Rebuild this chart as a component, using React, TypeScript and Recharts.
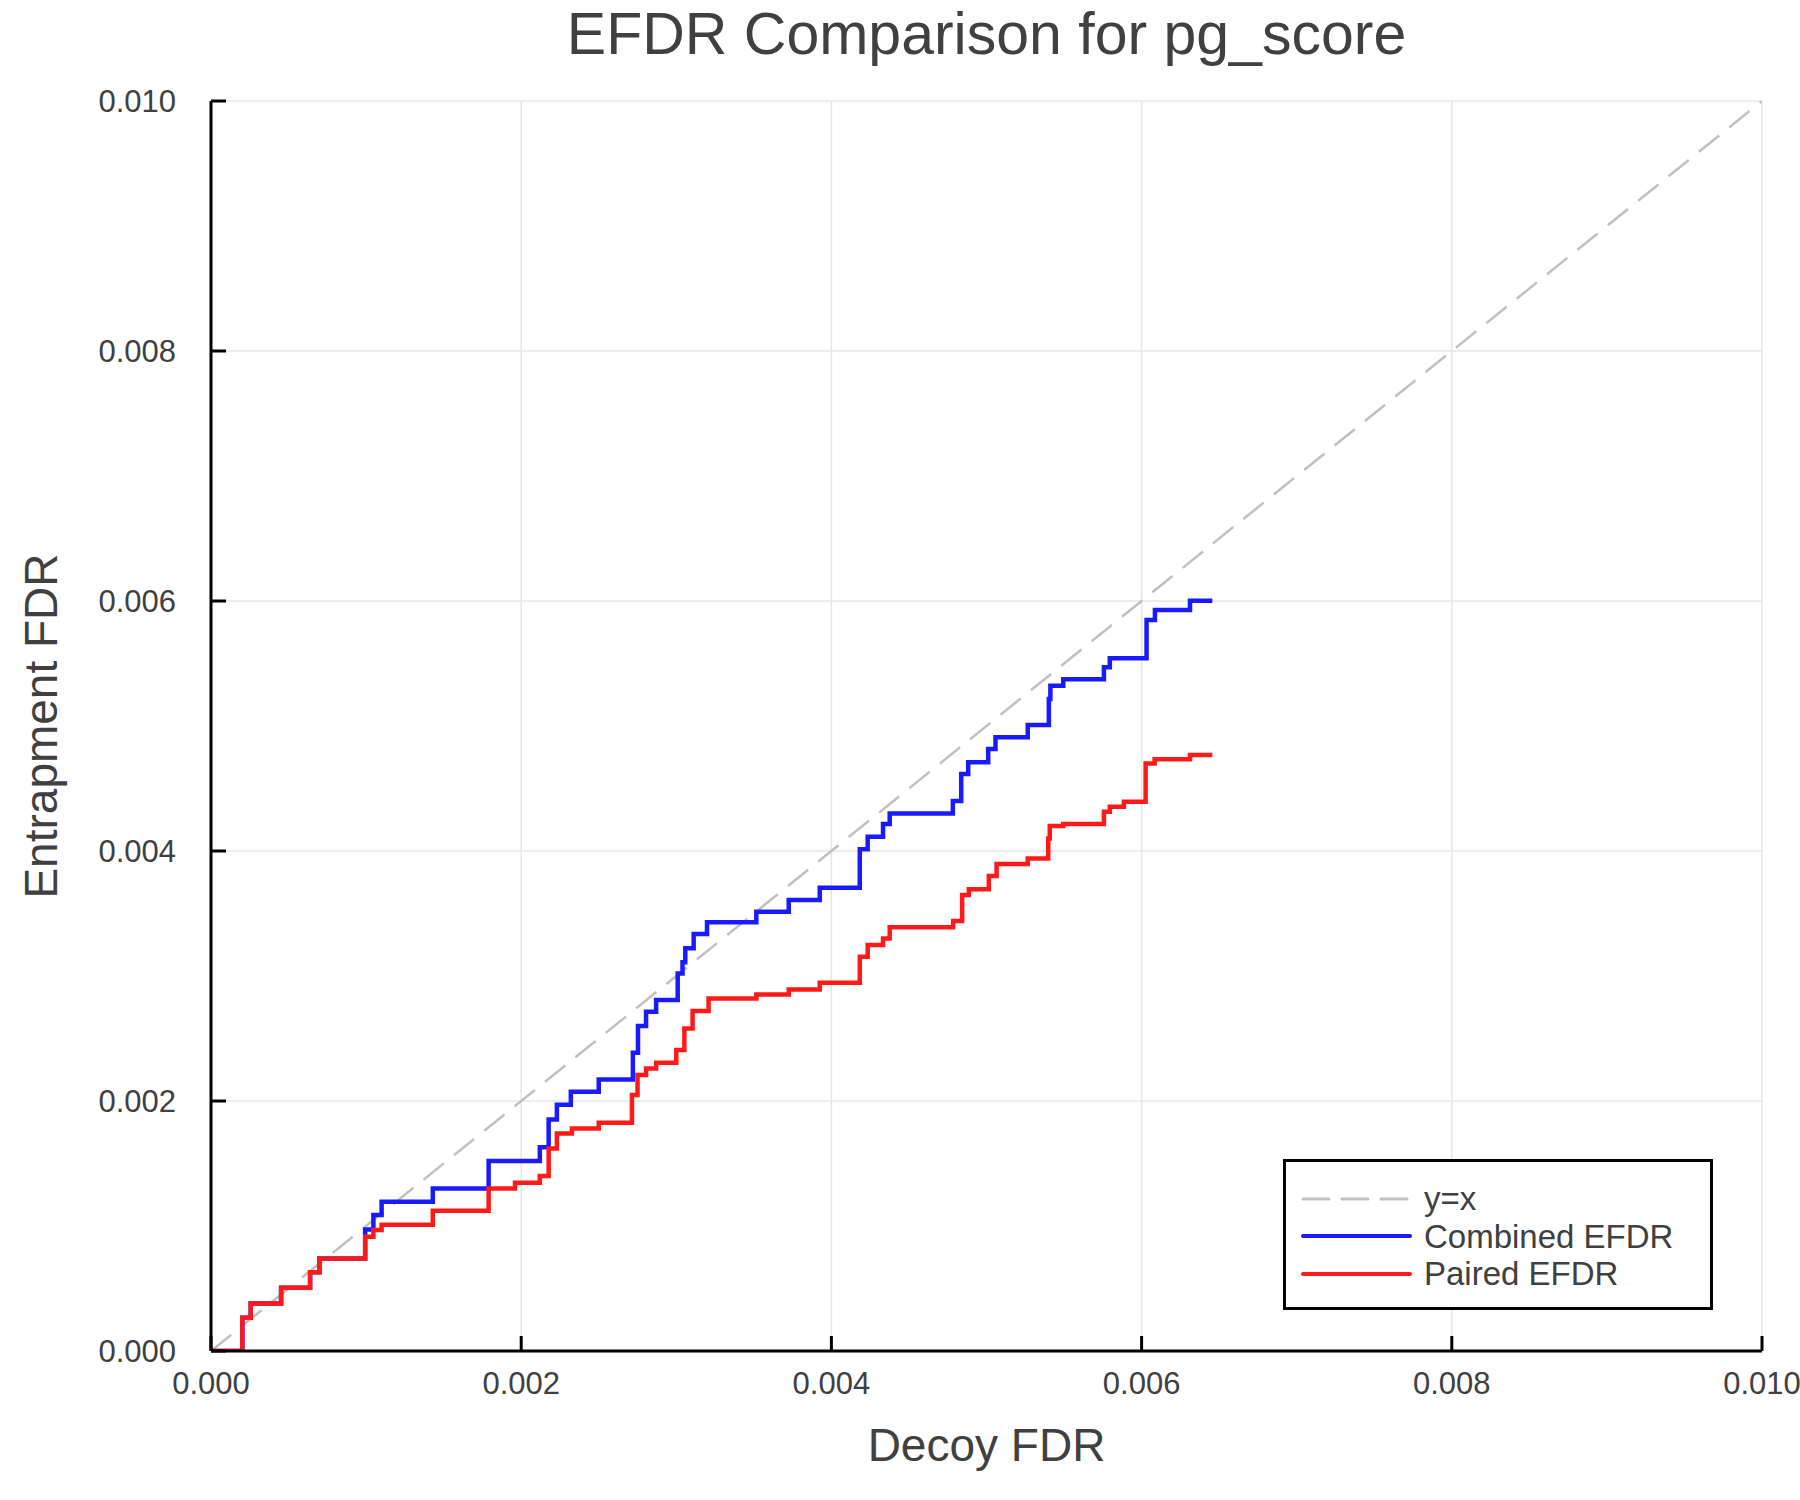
import React from "react";
import { LineChart, Line, XAxis, YAxis, CartesianGrid, Legend } from "recharts";

// values (step curves, drawn as stepAfter)
const COMBINED_X = [
  0, 0.000202, 0.000256, 0.000452, 0.000639, 0.000699, 0.000994, 0.001047, 0.0011, 0.00143,
  0.00179, 0.00212, 0.002177, 0.00223, 0.00232, 0.0025, 0.00272, 0.002753, 0.002805, 0.00287,
  0.003009, 0.00304, 0.003058, 0.003112, 0.003198, 0.003516, 0.003725, 0.003925, 0.004183, 0.004234,
  0.004333, 0.004376, 0.004783, 0.004837, 0.004882, 0.005011, 0.005058, 0.005266, 0.005402, 0.005412,
  0.005495, 0.005757, 0.005795, 0.006032, 0.006086, 0.006312, 0.006456,
];
const COMBINED_Y = [
  0, 0.000266, 0.000381, 0.000506, 0.00063, 0.000741, 0.000973, 0.001088, 0.001195, 0.0013,
  0.00152, 0.00163, 0.001853, 0.00197, 0.002075, 0.002173, 0.002387, 0.0026, 0.002715, 0.002808,
  0.00302, 0.00311, 0.003222, 0.003336, 0.00343, 0.003515, 0.003608, 0.003706, 0.004014, 0.004115,
  0.004216, 0.0043, 0.0044, 0.004616, 0.00471, 0.004816, 0.00491, 0.005008, 0.005216, 0.005322,
  0.005374, 0.00547, 0.005542, 0.005848, 0.005928, 0.006002, 0.006002,
];

const PAIRED_X = [
  0, 0.000202, 0.000256, 0.000452, 0.000639, 0.000699, 0.000994, 0.001047, 0.0011, 0.00143,
  0.00179, 0.00196, 0.00212, 0.002177, 0.00223, 0.002327, 0.0025, 0.002714, 0.00275, 0.002805,
  0.00287, 0.003, 0.003052, 0.003105, 0.003208, 0.003516, 0.003725, 0.003925, 0.004183, 0.004234,
  0.004333, 0.004376, 0.004785, 0.004843, 0.004886, 0.005015, 0.005065, 0.005266, 0.005398, 0.005408,
  0.005495, 0.005757, 0.005795, 0.005886, 0.006026, 0.006084, 0.006312, 0.006456,
];
const PAIRED_Y = [
  0, 0.000266, 0.000381, 0.000506, 0.00063, 0.000741, 0.000915, 0.000968, 0.00101, 0.001122,
  0.0013, 0.001347, 0.0014, 0.00162, 0.00174, 0.00178, 0.001826, 0.002048, 0.002208, 0.00226,
  0.002306, 0.002408, 0.002581, 0.00272, 0.00282, 0.002853, 0.002893, 0.002947, 0.003155, 0.003248,
  0.0033, 0.00339, 0.00344, 0.003648, 0.003694, 0.0038, 0.003896, 0.003941, 0.0041, 0.0042,
  0.004216, 0.004315, 0.004355, 0.004395, 0.0047, 0.004734, 0.004768, 0.004768,
];

const DIAG_X = [0, 0.01];
const DIAG_Y = [0, 0.01];

const X_TICKS = [0, 0.002, 0.004, 0.006, 0.008, 0.01];
const Y_TICKS = [0, 0.002, 0.004, 0.006, 0.008, 0.01];

const TITLE = "EFDR Comparison for pg_score";
const X_LABEL = "Decoy FDR";
const Y_LABEL = "Entrapment FDR";

const FONT = "'Liberation Sans', Arial, Helvetica, sans-serif";
const TEXT = "#404040";
const BLUE = "#1a1aff";
const RED = "#ff1a1a";
const GREY = "#c0c0c0";

const W = 1800;
const H = 1500;
const MARGIN = { top: 101, right: 38, bottom: 109, left: 131 };
const Y_AXIS_W = 80;
const X_AXIS_H = 40;
const TICK_LEN = 15;
const Y_TICK_GAP = 35;

const zip = (xs: number[], ys: number[]) => xs.map((x, i) => ({ x, y: ys[i] }));
const combined = zip(COMBINED_X, COMBINED_Y);
const paired = zip(PAIRED_X, PAIRED_Y);
const diag = zip(DIAG_X, DIAG_Y);

const LEGEND_ITEMS = [
  { name: "y=x", color: GREY, dash: "26 13", width: 3 },
  { name: "Combined EFDR", color: BLUE, dash: undefined, width: 4 },
  { name: "Paired EFDR", color: RED, dash: undefined, width: 4 },
];

const fmt = (v: number) => v.toFixed(3);

function YTick(props: any) {
  const { x, y, payload } = props;
  const ax = x + Y_TICK_GAP;
  return (
    <g>
      <line x1={ax} x2={ax + TICK_LEN} y1={y} y2={y} stroke="#000" strokeWidth={3} />
      <text x={x} y={y} dy="0.36em" textAnchor="end" fontSize={31} fill={TEXT} fontFamily={FONT}>
        {fmt(payload.value)}
      </text>
    </g>
  );
}

function XTick(props: any) {
  const { x, y, payload } = props;
  return (
    <g>
      <line x1={x} x2={x} y1={y} y2={y - TICK_LEN} stroke="#000" strokeWidth={3} />
      <text x={x} y={y + 32} dy="0.36em" textAnchor="middle" fontSize={31} fill={TEXT} fontFamily={FONT}>
        {fmt(payload.value)}
      </text>
    </g>
  );
}

function LegendBox() {
  return (
    <div
      style={{
        width: 430,
        height: 151,
        boxSizing: "border-box",
        border: "3px solid #000",
        background: "#fff",
        paddingTop: 18,
        fontFamily: FONT,
      }}
    >
      {LEGEND_ITEMS.map((it) => (
        <div key={it.name} style={{ display: "flex", alignItems: "center", height: 37.5 }}>
          <svg width={124} height={20} style={{ marginLeft: 14 }}>
            <line
              x1={3}
              x2={110}
              y1={10}
              y2={10}
              stroke={it.color}
              strokeWidth={it.width}
              strokeDasharray={it.dash}
              strokeLinecap="round"
            />
          </svg>
          <span style={{ fontSize: 33, color: TEXT, lineHeight: "37px" }}>{it.name}</span>
        </div>
      ))}
    </div>
  );
}

export default function App() {
  const plotLeft = MARGIN.left + Y_AXIS_W;
  const plotW = W - plotLeft - MARGIN.right;
  const plotTop = MARGIN.top;
  const plotH = H - MARGIN.top - MARGIN.bottom - X_AXIS_H;

  return (
    <div style={{ position: "absolute", left: 0, top: 0, width: W, height: H, background: "#fff" }}>
      <div
        style={{
          position: "absolute",
          left: plotLeft,
          width: plotW,
          top: 0,
          textAlign: "center",
          fontFamily: FONT,
          fontSize: 59,
          lineHeight: "68px",
          color: TEXT,
          zIndex: 1,
        }}
      >
        {TITLE}
      </div>
      <LineChart width={W} height={H} margin={MARGIN}>
        <CartesianGrid stroke="#e6e6e6" strokeWidth={1.5} />
        <XAxis
          type="number"
          dataKey="x"
          domain={[0, 0.01]}
          ticks={X_TICKS}
          allowDataOverflow
          height={X_AXIS_H}
          tickSize={0}
          tickMargin={0}
          tickLine={false}
          tick={<XTick />}
          axisLine={{ stroke: "#000", strokeWidth: 3 }}
          label={{
            content: () => (
              <text
                x={plotLeft + plotW / 2}
                y={plotTop + plotH + 93}
                dy="0.36em"
                textAnchor="middle"
                fontSize={46}
                fill={TEXT}
                fontFamily={FONT}
              >
                {X_LABEL}
              </text>
            ),
          }}
        />
        <YAxis
          type="number"
          dataKey="y"
          domain={[0, 0.01]}
          ticks={Y_TICKS}
          allowDataOverflow
          width={Y_AXIS_W}
          tickSize={0}
          tickMargin={Y_TICK_GAP}
          tickLine={false}
          tick={<YTick />}
          axisLine={{ stroke: "#000", strokeWidth: 3 }}
          label={{
            content: () => (
              <text
                x={40}
                y={plotTop + plotH / 2}
                dy="0.36em"
                textAnchor="middle"
                fontSize={46}
                fill={TEXT}
                fontFamily={FONT}
                transform={`rotate(-90 40 ${plotTop + plotH / 2})`}
              >
                {Y_LABEL}
              </text>
            ),
          }}
        />
        <Legend
          layout="vertical"
          align="center"
          verticalAlign="middle"
          wrapperStyle={{ position: "absolute", left: 1283, top: 1159, width: 430 }}
          content={() => <LegendBox />}
        />
        <Line
          data={diag}
          dataKey="y"
          name="y=x"
          stroke={GREY}
          strokeWidth={2.5}
          strokeDasharray="26 13"
          dot={false}
          activeDot={false}
          isAnimationActive={false}
        />
        <Line
          data={combined}
          dataKey="y"
          name="Combined EFDR"
          type="stepAfter"
          stroke={BLUE}
          strokeWidth={4.5}
          dot={false}
          activeDot={false}
          isAnimationActive={false}
        />
        <Line
          data={paired}
          dataKey="y"
          name="Paired EFDR"
          type="stepAfter"
          stroke={RED}
          strokeWidth={4.5}
          dot={false}
          activeDot={false}
          isAnimationActive={false}
        />
      </LineChart>
    </div>
  );
}
